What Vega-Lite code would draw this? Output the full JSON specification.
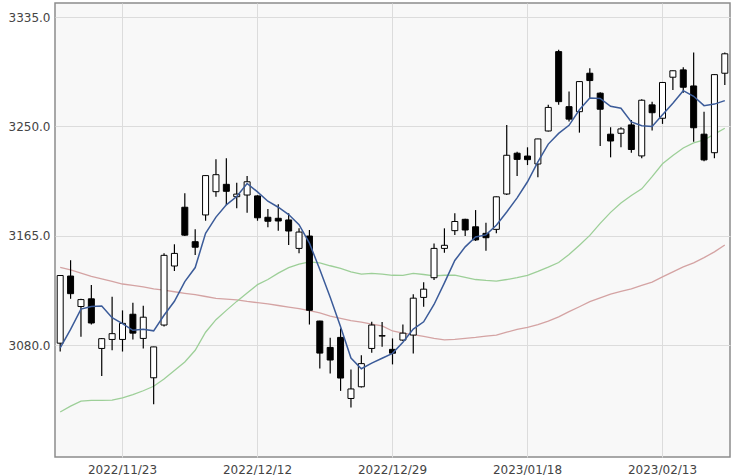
{
  "$schema": "https://vega.github.io/schema/vega-lite/v6.json",
  "autosize": "none",
  "width": 675,
  "height": 454,
  "padding": {"left": 55, "top": 3, "right": 4, "bottom": 18},
  "background": "#ffffff",
  "config": {
    "view": {"fill": "#f8f8f8", "stroke": "#8c8c8c", "strokeWidth": 1.5},
    "axis": {"labelFont": "DejaVu Sans", "labelFontSize": 12, "labelColor": "#444444", "gridColor": "#dcdcdc", "gridWidth": 1, "domain": false, "ticks": false, "title": null}
  },
  "data": {"values": [
    {"date": "2022/11/15", "open": 3081.5, "high": 3134.5, "low": 3075.0, "close": 3134.1, "ma5": 3077.8, "ma25": 3028.0, "ma75": 3140.5},
    {"date": "2022/11/16", "open": 3133.7, "high": 3146.0, "low": 3116.0, "close": 3120.0, "ma5": 3092.2, "ma25": 3032.5, "ma75": 3138.5},
    {"date": "2022/11/17", "open": 3110.0, "high": 3116.0, "low": 3086.5, "close": 3115.4, "ma5": 3108.0, "ma25": 3036.5, "ma75": 3136.0},
    {"date": "2022/11/18", "open": 3116.0, "high": 3126.7, "low": 3096.0, "close": 3097.2, "ma5": 3110.0, "ma25": 3037.0, "ma75": 3133.5},
    {"date": "2022/11/21", "open": 3077.4, "high": 3085.5, "low": 3056.0, "close": 3085.0, "ma5": 3110.4, "ma25": 3037.0, "ma75": 3131.5},
    {"date": "2022/11/22", "open": 3084.4, "high": 3117.6, "low": 3076.0, "close": 3088.9, "ma5": 3101.3, "ma25": 3037.2, "ma75": 3129.5},
    {"date": "2022/11/23", "open": 3084.4, "high": 3107.0, "low": 3075.0, "close": 3096.9, "ma5": 3096.7, "ma25": 3039.0, "ma75": 3127.5},
    {"date": "2022/11/24", "open": 3104.0, "high": 3113.0, "low": 3084.4, "close": 3089.3, "ma5": 3091.5, "ma25": 3041.5, "ma75": 3126.5},
    {"date": "2022/11/25", "open": 3085.2, "high": 3110.6, "low": 3077.4, "close": 3101.7, "ma5": 3092.4, "ma25": 3044.5, "ma75": 3125.3},
    {"date": "2022/11/28", "open": 3054.6, "high": 3078.8, "low": 3034.0, "close": 3078.6, "ma5": 3091.1, "ma25": 3048.0, "ma75": 3123.7},
    {"date": "2022/11/29", "open": 3095.6, "high": 3151.4, "low": 3094.5, "close": 3149.8, "ma5": 3103.2, "ma25": 3053.6, "ma75": 3122.8},
    {"date": "2022/11/30", "open": 3141.5, "high": 3158.4, "low": 3137.6, "close": 3151.3, "ma5": 3114.1, "ma25": 3060.2, "ma75": 3121.5},
    {"date": "2022/12/01", "open": 3187.2, "high": 3198.0, "low": 3164.9, "close": 3165.5, "ma5": 3129.4, "ma25": 3066.9, "ma75": 3120.3},
    {"date": "2022/12/02", "open": 3160.4, "high": 3170.0, "low": 3150.0, "close": 3156.1, "ma5": 3140.3, "ma25": 3076.0, "ma75": 3119.2},
    {"date": "2022/12/05", "open": 3181.2, "high": 3212.2, "low": 3176.7, "close": 3211.8, "ma5": 3166.9, "ma25": 3090.0, "ma75": 3117.8},
    {"date": "2022/12/06", "open": 3199.3, "high": 3224.5, "low": 3195.4, "close": 3212.5, "ma5": 3179.5, "ma25": 3099.8, "ma75": 3116.3},
    {"date": "2022/12/07", "open": 3205.0, "high": 3225.3, "low": 3189.0, "close": 3199.6, "ma5": 3189.1, "ma25": 3107.0, "ma75": 3115.8},
    {"date": "2022/12/08", "open": 3195.4, "high": 3206.3, "low": 3186.4, "close": 3197.4, "ma5": 3195.5, "ma25": 3114.0, "ma75": 3115.2},
    {"date": "2022/12/09", "open": 3196.7, "high": 3211.5, "low": 3183.0, "close": 3207.0, "ma5": 3205.7, "ma25": 3120.5, "ma75": 3114.0},
    {"date": "2022/12/12", "open": 3196.0, "high": 3196.5, "low": 3176.7, "close": 3179.0, "ma5": 3199.1, "ma25": 3127.0, "ma75": 3113.0},
    {"date": "2022/12/13", "open": 3179.4, "high": 3185.8, "low": 3171.6, "close": 3176.3, "ma5": 3191.9, "ma25": 3131.0, "ma75": 3112.0},
    {"date": "2022/12/14", "open": 3178.6, "high": 3189.5, "low": 3169.0, "close": 3176.5, "ma5": 3187.2, "ma25": 3136.0, "ma75": 3110.8},
    {"date": "2022/12/15", "open": 3177.3, "high": 3182.5, "low": 3157.8, "close": 3168.7, "ma5": 3181.5, "ma25": 3140.3, "ma75": 3109.5},
    {"date": "2022/12/16", "open": 3155.2, "high": 3170.8, "low": 3151.4, "close": 3167.9, "ma5": 3173.7, "ma25": 3143.0, "ma75": 3108.3},
    {"date": "2022/12/19", "open": 3164.8, "high": 3169.5, "low": 3096.0, "close": 3107.1, "ma5": 3159.3, "ma25": 3144.7, "ma75": 3106.8},
    {"date": "2022/12/20", "open": 3098.7, "high": 3099.0, "low": 3061.9, "close": 3073.8, "ma5": 3138.8, "ma25": 3144.0, "ma75": 3105.0},
    {"date": "2022/12/21", "open": 3078.2, "high": 3085.7, "low": 3058.0, "close": 3068.4, "ma5": 3117.2, "ma25": 3141.7, "ma75": 3102.5},
    {"date": "2022/12/22", "open": 3086.0, "high": 3093.0, "low": 3044.4, "close": 3054.4, "ma5": 3094.3, "ma25": 3139.6, "ma75": 3100.7},
    {"date": "2022/12/23", "open": 3038.5, "high": 3061.0, "low": 3031.5, "close": 3045.9, "ma5": 3069.9, "ma25": 3137.0, "ma75": 3099.0},
    {"date": "2022/12/26", "open": 3047.6, "high": 3072.2, "low": 3047.1, "close": 3065.6, "ma5": 3061.6, "ma25": 3135.2, "ma75": 3097.9},
    {"date": "2022/12/27", "open": 3077.4, "high": 3098.1, "low": 3074.0, "close": 3095.6, "ma5": 3066.0, "ma25": 3135.7, "ma75": 3096.3},
    {"date": "2022/12/28", "open": 3087.0, "high": 3098.0, "low": 3078.7, "close": 3087.4, "ma5": 3069.8, "ma25": 3135.2, "ma75": 3095.0},
    {"date": "2022/12/29", "open": 3076.7, "high": 3085.2, "low": 3065.0, "close": 3073.7, "ma5": 3073.6, "ma25": 3134.3, "ma75": 3091.0},
    {"date": "2022/12/30", "open": 3083.9, "high": 3096.0, "low": 3083.1, "close": 3089.3, "ma5": 3082.3, "ma25": 3134.2, "ma75": 3089.3},
    {"date": "2023/01/03", "open": 3087.8, "high": 3119.5, "low": 3073.5, "close": 3116.5, "ma5": 3092.5, "ma25": 3135.8, "ma75": 3088.2},
    {"date": "2023/01/04", "open": 3117.1, "high": 3128.8, "low": 3109.8, "close": 3123.5, "ma5": 3098.1, "ma25": 3134.9, "ma75": 3086.8},
    {"date": "2023/01/05", "open": 3132.4, "high": 3159.1, "low": 3130.6, "close": 3155.2, "ma5": 3111.6, "ma25": 3133.9, "ma75": 3085.3},
    {"date": "2023/01/06", "open": 3155.2, "high": 3170.8, "low": 3151.8, "close": 3157.6, "ma5": 3128.4, "ma25": 3134.3, "ma75": 3084.0},
    {"date": "2023/01/09", "open": 3169.0, "high": 3182.5, "low": 3165.6, "close": 3176.1, "ma5": 3145.8, "ma25": 3134.4, "ma75": 3084.5},
    {"date": "2023/01/10", "open": 3177.8, "high": 3178.3, "low": 3164.8, "close": 3169.5, "ma5": 3156.4, "ma25": 3132.7, "ma75": 3085.3},
    {"date": "2023/01/11", "open": 3172.0, "high": 3185.0, "low": 3161.0, "close": 3161.8, "ma5": 3164.1, "ma25": 3131.0, "ma75": 3086.0},
    {"date": "2023/01/12", "open": 3166.9, "high": 3175.2, "low": 3153.4, "close": 3163.5, "ma5": 3165.7, "ma25": 3130.3, "ma75": 3087.0},
    {"date": "2023/01/13", "open": 3170.0, "high": 3195.5, "low": 3166.9, "close": 3195.3, "ma5": 3173.2, "ma25": 3129.8, "ma75": 3087.8},
    {"date": "2023/01/16", "open": 3197.5, "high": 3251.2, "low": 3196.7, "close": 3227.6, "ma5": 3183.5, "ma25": 3131.0, "ma75": 3090.0},
    {"date": "2023/01/17", "open": 3229.2, "high": 3230.4, "low": 3211.5, "close": 3224.4, "ma5": 3194.5, "ma25": 3132.4, "ma75": 3092.3},
    {"date": "2023/01/18", "open": 3227.0, "high": 3233.8, "low": 3220.0, "close": 3224.2, "ma5": 3207.0, "ma25": 3134.3, "ma75": 3093.8},
    {"date": "2023/01/19", "open": 3220.8, "high": 3240.5, "low": 3210.5, "close": 3240.3, "ma5": 3222.4, "ma25": 3137.3, "ma75": 3096.0},
    {"date": "2023/01/20", "open": 3246.5, "high": 3266.8, "low": 3246.0, "close": 3264.8, "ma5": 3236.3, "ma25": 3140.6, "ma75": 3098.6},
    {"date": "2023/01/30", "open": 3308.2, "high": 3309.6, "low": 3266.8, "close": 3269.3, "ma5": 3244.6, "ma25": 3144.2, "ma75": 3102.0},
    {"date": "2023/01/31", "open": 3265.4, "high": 3277.1, "low": 3253.8, "close": 3255.7, "ma5": 3250.9, "ma25": 3150.4, "ma75": 3106.0},
    {"date": "2023/02/01", "open": 3261.5, "high": 3285.2, "low": 3245.2, "close": 3284.9, "ma5": 3263.0, "ma25": 3157.7, "ma75": 3109.8},
    {"date": "2023/02/02", "open": 3291.4, "high": 3295.3, "low": 3272.0, "close": 3285.7, "ma5": 3272.1, "ma25": 3165.3, "ma75": 3113.8},
    {"date": "2023/02/03", "open": 3275.9, "high": 3276.6, "low": 3234.9, "close": 3263.4, "ma5": 3271.8, "ma25": 3174.7, "ma75": 3116.7},
    {"date": "2023/02/06", "open": 3244.0, "high": 3249.4, "low": 3226.0, "close": 3238.7, "ma5": 3265.7, "ma25": 3183.2, "ma75": 3119.6},
    {"date": "2023/02/07", "open": 3244.7, "high": 3249.4, "low": 3233.8, "close": 3248.1, "ma5": 3264.2, "ma25": 3190.5, "ma75": 3121.7},
    {"date": "2023/02/08", "open": 3251.2, "high": 3255.1, "low": 3229.6, "close": 3232.1, "ma5": 3253.6, "ma25": 3196.3, "ma75": 3123.8},
    {"date": "2023/02/09", "open": 3227.1, "high": 3271.2, "low": 3225.3, "close": 3270.4, "ma5": 3250.5, "ma25": 3201.5, "ma75": 3126.5},
    {"date": "2023/02/10", "open": 3266.8, "high": 3269.3, "low": 3246.8, "close": 3260.7, "ma5": 3250.0, "ma25": 3211.0, "ma75": 3129.0},
    {"date": "2023/02/13", "open": 3256.4, "high": 3284.6, "low": 3252.0, "close": 3284.2, "ma5": 3259.1, "ma25": 3221.0, "ma75": 3133.0},
    {"date": "2023/02/14", "open": 3288.3, "high": 3293.6, "low": 3278.4, "close": 3293.3, "ma5": 3268.1, "ma25": 3227.5, "ma75": 3137.0},
    {"date": "2023/02/15", "open": 3294.0, "high": 3296.1, "low": 3276.3, "close": 3280.5, "ma5": 3277.8, "ma25": 3233.3, "ma75": 3140.8},
    {"date": "2023/02/16", "open": 3281.5, "high": 3307.5, "low": 3238.2, "close": 3249.0, "ma5": 3273.5, "ma25": 3237.2, "ma75": 3144.0},
    {"date": "2023/02/17", "open": 3244.0, "high": 3261.5, "low": 3223.0, "close": 3224.0, "ma5": 3266.2, "ma25": 3239.5, "ma75": 3148.0},
    {"date": "2023/02/20", "open": 3229.6, "high": 3290.7, "low": 3225.3, "close": 3290.3, "ma5": 3267.4, "ma25": 3244.0, "ma75": 3152.5},
    {"date": "2023/02/21", "open": 3291.4, "high": 3307.5, "low": 3282.3, "close": 3306.5, "ma5": 3270.1, "ma25": 3248.6, "ma75": 3157.8}
  ]},
  "encoding": {
    "x": {
      "field": "date", "type": "ordinal", "sort": null,
      "scale": {"type": "band", "paddingInner": 0, "paddingOuter": 0},
      "axis": {"values": ["2022/11/23", "2022/12/12", "2022/12/29", "2023/01/18", "2023/02/13"], "labelAngle": 0, "labelPadding": 7, "grid": true, "bandPosition": 0.5}
    }
  },
  "layer": [
    {
      "mark": {"type": "line", "color": "#d4a3a3", "strokeWidth": 1.3},
      "encoding": {"y": {"field": "ma75", "type": "quantitative", "scale": {"domain": [2993, 3346], "nice": false, "zero": false}, "axis": {"values": [3080, 3165, 3250, 3335], "format": ".1f", "labelPadding": 5, "grid": true}}}
    },
    {
      "mark": {"type": "line", "color": "#9dcf98", "strokeWidth": 1.3},
      "encoding": {"y": {"field": "ma25", "type": "quantitative"}}
    },
    {
      "mark": {"type": "rule", "color": "#000000", "strokeWidth": 1.2},
      "encoding": {"y": {"field": "low", "type": "quantitative"}, "y2": {"field": "high"}}
    },
    {
      "mark": {"type": "bar", "width": 6, "stroke": "#000000", "strokeWidth": 1},
      "encoding": {
        "y": {"field": "open", "type": "quantitative"},
        "y2": {"field": "close"},
        "fill": {"condition": {"test": "datum.close >= datum.open", "value": "#ffffff"}, "value": "#000000"}
      }
    },
    {
      "mark": {"type": "line", "color": "#3b5b99", "strokeWidth": 1.5},
      "encoding": {"y": {"field": "ma5", "type": "quantitative"}}
    }
  ]
}
